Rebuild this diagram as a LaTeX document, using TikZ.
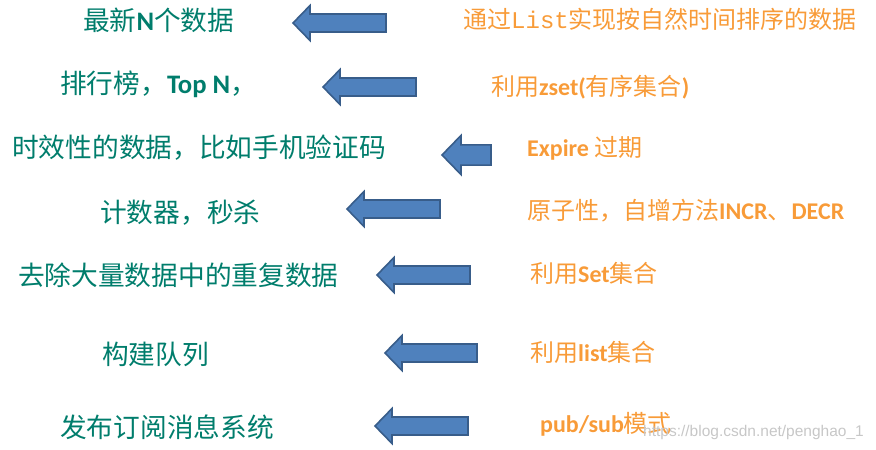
\documentclass[tikz,border=0pt]{standalone}
\usepackage{fontspec}
\newfontfamily\cjk{Noto Sans CJK SC}
\newfontfamily\lat{Carlito}
\newfontfamily\monof{Liberation Mono}
\newfontfamily\wmf{Liberation Sans}
\definecolor{tealtxt}{RGB}{0,125,108}
\definecolor{orangetxt}{RGB}{248,155,56}
\definecolor{arrowfill}{RGB}{79,129,189}
\definecolor{arrowline}{RGB}{56,93,138}
\newcommand{\blockarrow}[5]{% name, tipx, y, rightx, scale
  \path[blockarr] (#2,#3) -- (#2+17*#5,#3-17.5*#5) -- (#2+17*#5,#3-9*#5) -- (#4,#3-9*#5)
     -- (#4,#3+9*#5) -- (#2+17*#5,#3+9*#5) -- (#2+17*#5,#3+17.5*#5) -- cycle;
  \coordinate (#1) at (#2,#3);
}
\tikzset{
  lefttxt/.style={anchor=west,inner sep=0pt,text=tealtxt,font=\cjk\fontsize{26.7}{30}\selectfont},
  righttxt/.style={anchor=west,inner sep=0pt,text=orangetxt,font=\cjk\fontsize{24}{28}\selectfont},
  blockarr/.style={fill=arrowfill,draw=arrowline,line width=1.6pt,line join=miter},
  wmark/.style={anchor=west,inner sep=0pt,text=black!22,font=\wmf\fontsize{15.5}{18}\selectfont}
}
\begin{document}
\begin{tikzpicture}[x=1pt,y=-1pt]
\useasboundingbox (0,0) rectangle (876,450);
% left texts
\node[lefttxt] (l1) at (83,20) {最新{\lat\bfseries N}个数据};
\node[lefttxt] (l2) at (60,84) {排行榜，{\lat\bfseries Top N}，};
\node[lefttxt] (l3) at (12,148) {时效性的数据，比如手机验证码};
\node[lefttxt] (l4) at (100,213) {计数器，秒杀};
\node[lefttxt] (l5) at (18,275) {去除大量数据中的重复数据};
\node[lefttxt] (l6) at (102,354) {构建队列};
\node[lefttxt] (l7) at (60,427) {发布订阅消息系统};
% arrows
\blockarrow{a1}{293}{23}{386}{1}
\blockarrow{a2}{323}{87}{416}{1}
\blockarrow{a3}{442}{155}{491}{1.12}
\blockarrow{a4}{347}{209}{440}{1}
\blockarrow{a5}{377}{275}{470}{1}
\blockarrow{a6}{385}{353}{477}{1}
\blockarrow{a7}{375}{426}{468}{1}
% right texts
\node[righttxt] (r1) at (463,19) {通过{\monof List}实现按自然时间排序的数据};
\node[righttxt] (r2) at (491,87) {利用{\lat\bfseries zset(}有序集合{\lat\bfseries )}};
\node[righttxt] (r3) at (527,148) {{\lat\bfseries Expire} 过期};
\node[righttxt] (r4) at (527,211) {原子性，自增方法{\lat\bfseries INCR}、{\lat\bfseries DECR}};
\node[righttxt] (r5) at (530,273) {利用{\lat\bfseries Set}集合};
\node[righttxt] (r6) at (530,352) {利用{\lat\bfseries list}集合};
\node[righttxt] (r7) at (540,424) {{\lat\bfseries pub/sub}模式};
\node[wmark] (wm) at (643,432) {https://blog.csdn.net/penghao\_1};
\end{tikzpicture}
\end{document}
